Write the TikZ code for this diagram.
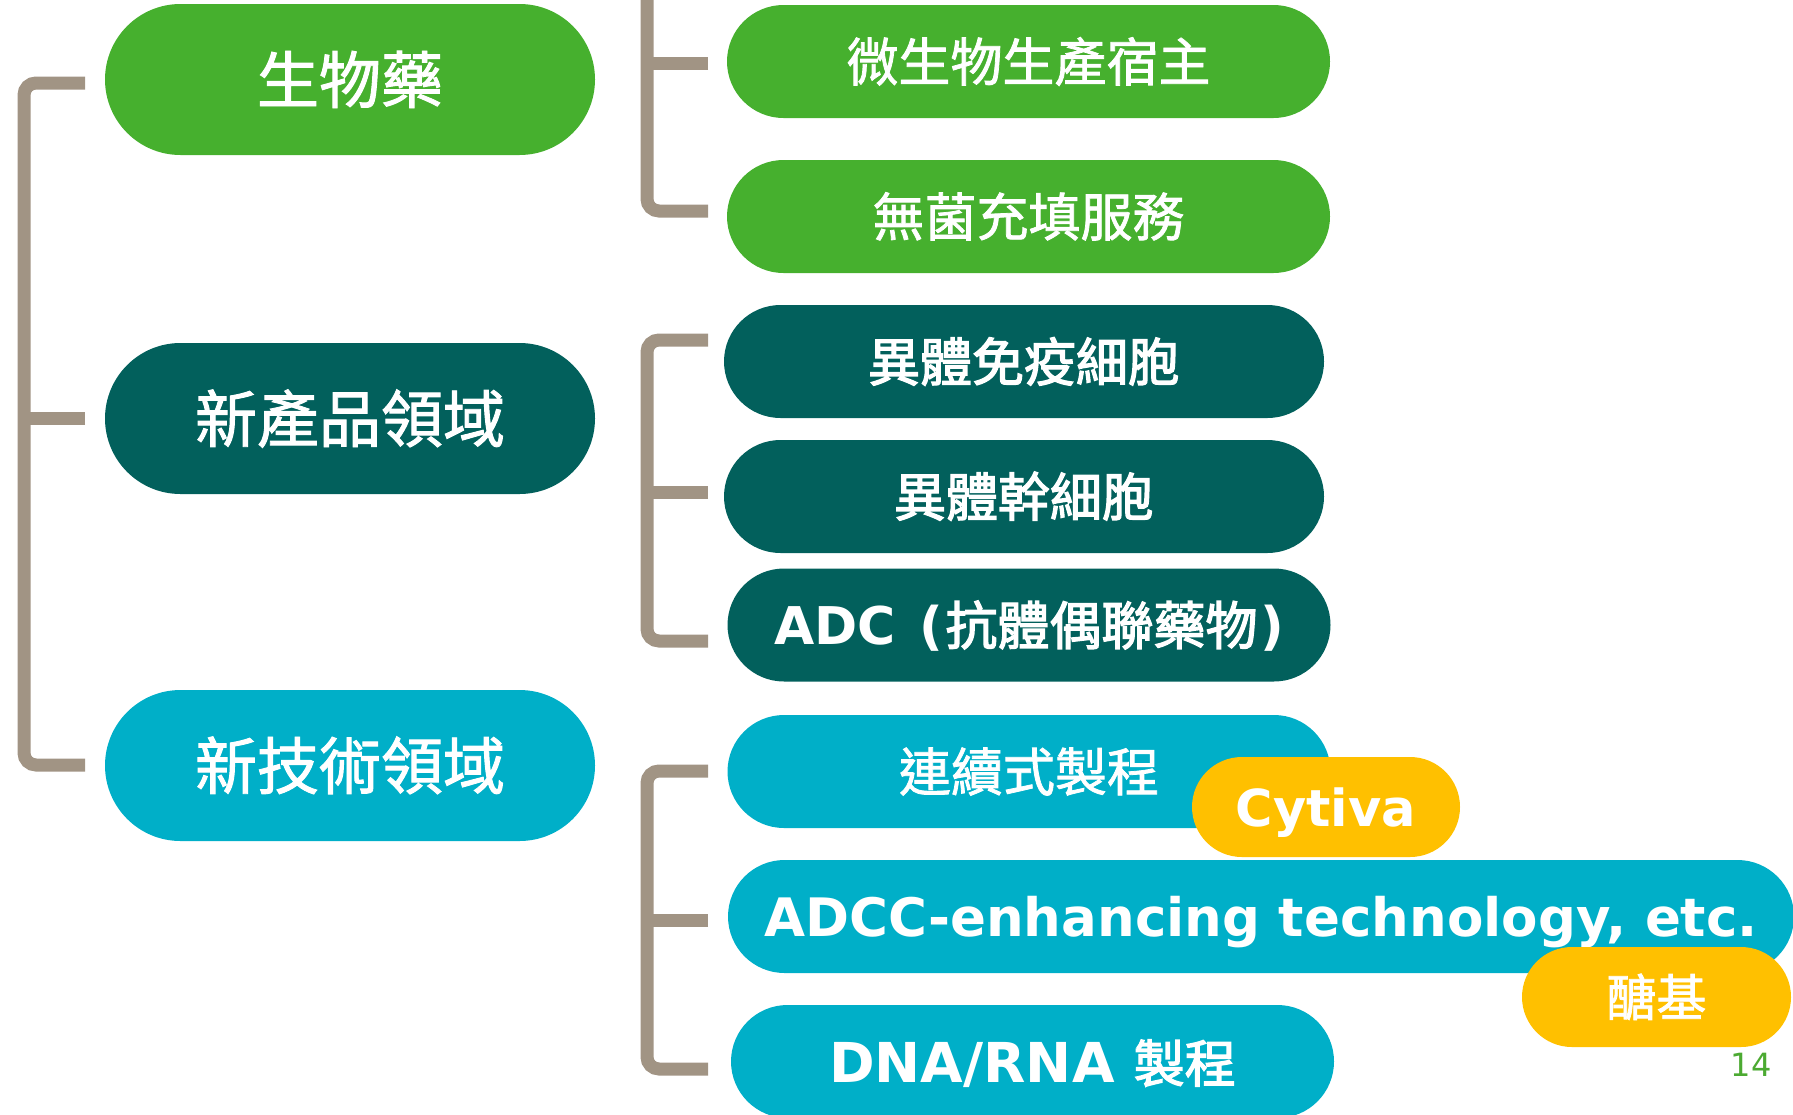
\documentclass[tikz,border=0pt]{standalone}
\usepackage{fontspec}
\setmainfont{DejaVu Sans}
\newfontfamily\cjk{Noto Sans CJK TC}[FakeBold=1.5]
\newfontfamily\cjkh{Noto Sans CJK TC}[FakeBold=2.5]
\newfontfamily\lat{DejaVu Sans}
\usetikzlibrary{shapes.misc}
\definecolor{cgreen}{RGB}{70,176,46}
\definecolor{cteal}{RGB}{2,96,92}
\definecolor{ccyan}{RGB}{0,175,200}
\definecolor{cyel}{RGB}{255,192,0}
\definecolor{cbrk}{RGB}{161,148,132}
\definecolor{cnum}{RGB}{76,170,50}
\newcommand\ptxt[2]{{\fontsize{#1}{#1}\selectfont\raisebox{0pt}[0.76em][0pt]{#2}}}
\begin{document}
\begin{tikzpicture}[x=1pt,y=-1pt,
  pill/.style={rounded rectangle, inner sep=0pt, text=white, minimum height=113pt, minimum width=603pt},
  bigpill/.style={pill, minimum width=490pt, minimum height=151pt},
  tagpill/.style={pill, fill=cyel, minimum height=100pt, minimum width=268pt},
  brk/.style={draw=cbrk, line width=13pt, rounded corners=12pt}]
\useasboundingbox (0,0) rectangle (1793,1114);
\clip (0,0) rectangle (1793,1114);

% left column
\node[bigpill, fill=cgreen] (bio) at (350,79.5) {\ptxt{62}{\cjk 生物藥}};
\node[bigpill, fill=cteal] (newp) at (350,418.5) {\ptxt{62}{\cjk 新產品領域}};
\node[bigpill, fill=ccyan] (tech) at (350,765.5) {\ptxt{62}{\cjk 新技術領域}};

% right column
\node[pill, fill=cgreen] (r1) at (1028.5,61.5) {\ptxt{52}{\cjk 微生物生產宿主}};
\node[pill, fill=cgreen] (r2) at (1028.5,216.5) {\ptxt{52}{\cjk 無菌充填服務}};
\node[pill, fill=cteal, minimum width=600pt] (r3) at (1024,361.5) {\ptxt{52}{\cjkh 異體免疫細胞}};
\node[pill, fill=cteal, minimum width=600pt] (r4) at (1024,496.5) {\ptxt{52}{\cjkh 異體幹細胞}};
\node[pill, fill=cteal] (r5) at (1029,625) {\ptxt{52}{\lat\bfseries ADC\hspace{0.45em}(\hspace{0.05em}{\mdseries\cjkh 抗體偶聯藥物}\hspace{0.05em})}};
\node[pill, fill=ccyan] (r6) at (1029,771.5) {\ptxt{52}{\cjk 連續式製程}};
\node[tagpill] (cy) at (1326,807) {\ptxt{51}{\lat\bfseries Cytiva}};
\node[pill, fill=ccyan, minimum width=1066pt] (r7) at (1261,916.5) {\ptxt{53}{\lat\bfseries ADCC-enhancing technology, etc.}};
\node[tagpill, minimum width=269pt] (gly) at (1656.5,997) {\ptxt{50}{\cjk 醣基}};
\node[pill, fill=ccyan] (r8) at (1032.5,1061.5) {\ptxt{55}{\lat\bfseries DNA/RNA {\mdseries\cjkh\fontsize{51}{51}\selectfont 製程}}};
\node[text=cnum, inner sep=0pt] (pg) at (1751,1064) {\ptxt{32}{\lat 14}};

% left bracket
\coordinate (L1) at (85,83);
\coordinate (L2) at (85,418);
\coordinate (L3) at (85,765);
\draw[brk] (L1) -- ++(-61,0) |- (L3);
\draw[brk] (L2) -- ++(-61,0);

% bracket group 1
\coordinate (A0) at (647,-30);
\coordinate (A1) at (708,63);
\coordinate (A2) at (708,211);
\draw[brk] (A0) |- (A2);
\draw[brk] (A1) -- ++(-61,0);

% bracket group 2
\coordinate (B1) at (708,340);
\coordinate (B2) at (708,492);
\coordinate (B3) at (708,641);
\draw[brk] (B1) -- ++(-61,0) |- (B3);
\draw[brk] (B2) -- ++(-61,0);

% bracket group 3
\coordinate (C1) at (708,771);
\coordinate (C2) at (708,920);
\coordinate (C3) at (708,1069);
\draw[brk] (C1) -- ++(-61,0) |- (C3);
\draw[brk] (C2) -- ++(-61,0);
\end{tikzpicture}
\end{document}
